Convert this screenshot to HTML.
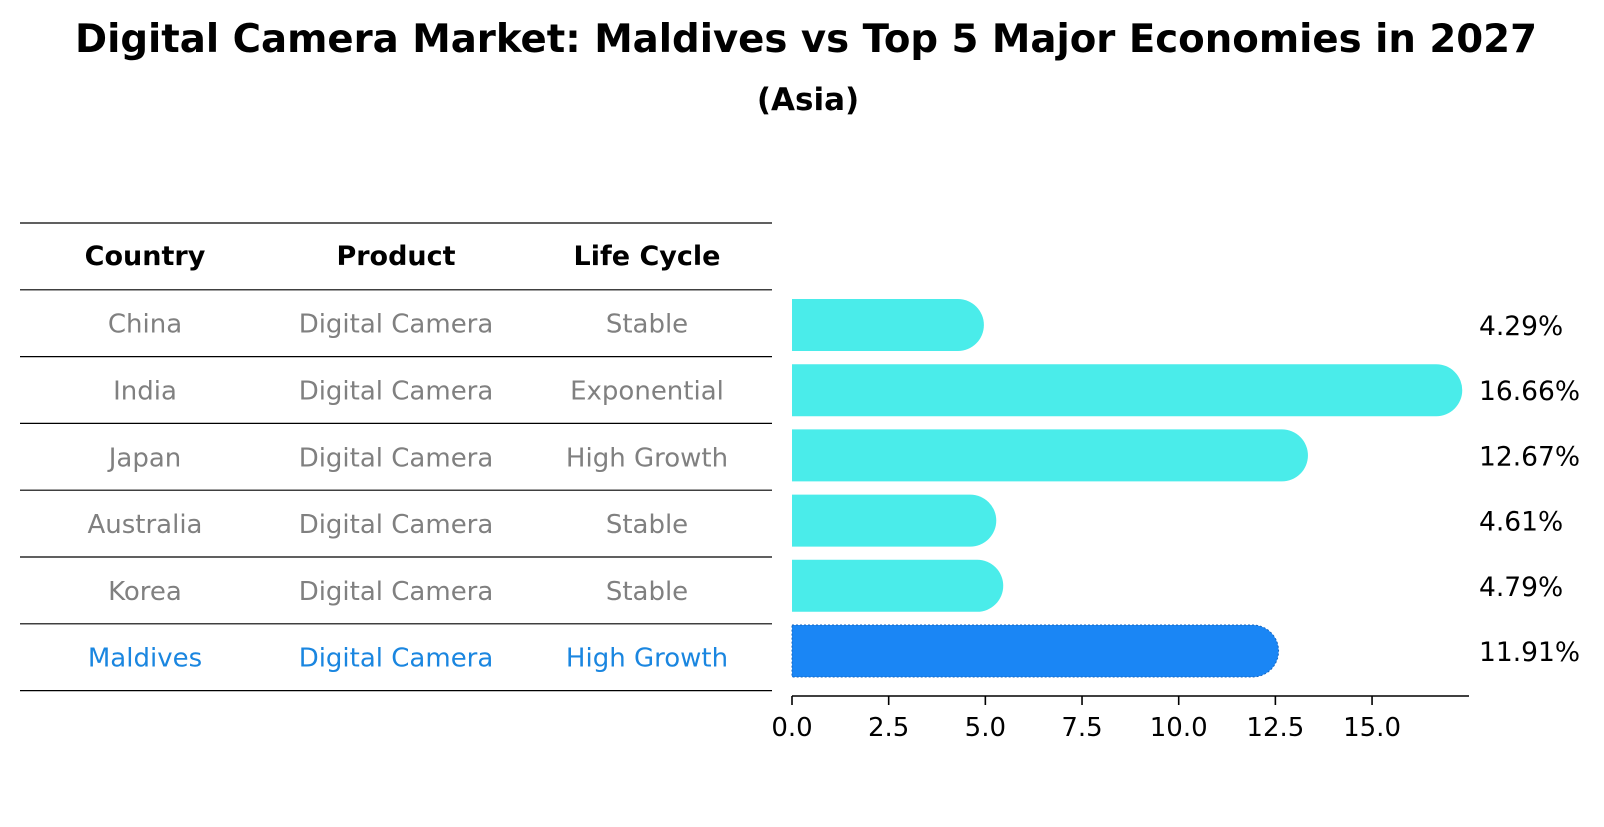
<!DOCTYPE html>
<html><head><meta charset="utf-8"><style>
body{margin:0;background:#fff;font-family:"DejaVu Sans","Liberation Sans",sans-serif}
</style></head><body>
<svg width="1604" height="823" xmlns="http://www.w3.org/2000/svg" font-family="DejaVu Sans, Liberation Sans, sans-serif">
<text x="806" y="52" text-anchor="middle" font-size="39" font-weight="bold" textLength="1462" lengthAdjust="spacingAndGlyphs">Digital Camera Market: Maldives vs Top 5 Major Economies in 2027</text>
<text x="808" y="110" text-anchor="middle" font-size="31" font-weight="bold">(Asia)</text>
<g id="table"></g>
<g id="bars"></g>
<g id="axis"></g>
</svg>
<script>
const countries=["China","India","Japan","Australia","Korea","Maldives"];
const products=["Digital Camera","Digital Camera","Digital Camera","Digital Camera","Digital Camera","Digital Camera"];
const lifecycles=["Stable","Exponential","High Growth","Stable","Stable","High Growth"];
const values=[4.29,16.66,12.67,4.61,4.79,11.91];
const ticks=[0,2.5,5,7.5,10,12.5,15];
const NS="http://www.w3.org/2000/svg";
const x0=792, scale=38.67;
const xs=v=>x0+v*scale;
const yc=i=>325+i*65.2;
function mk(tag,attrs,parent,text){const e=document.createElementNS(NS,tag);for(const k in attrs)e.setAttribute(k,attrs[k]);if(text!==undefined)e.textContent=text;parent.appendChild(e);return e;}
const tbl=document.getElementById('table');
for(let k=0;k<8;k++){const y=223+k*66.8;
const l=mk('line',{x1:20,x2:772,y1:y,y2:y,stroke:'#000','stroke-width':1.2},tbl);

}
const cx=[145,396,647];
["Country","Product","Life Cycle"].forEach((h,j)=>{const t=mk('text',{x:cx[j],y:265,'text-anchor':'middle','font-size':27,'font-weight':'bold'},tbl,h);

});
countries.forEach((c,i)=>{const col=i===countries.length-1?'#1a86e0':'#808080';
[c,products[i],lifecycles[i]].forEach((s,j)=>{const t=mk('text',{x:cx[j],y:323.2+i*66.8+9.5,'text-anchor':'middle','font-size':26,fill:col},tbl,s);

});});
const bars=document.getElementById('bars');
values.forEach((v,i)=>{const last=i===values.length-1;const col=last?'#1a86f5':'#4aecea';const h=52,r=26;
const g=mk('g',{},bars);


const xe=xs(v);
const attrs={d:`M${x0} ${yc(i)-h/2} H${xe} A${r} ${r} 0 0 1 ${xe} ${yc(i)+h/2} H${x0} Z`,fill:col};
if(last){attrs.stroke='#1565c0';attrs['stroke-width']=1;attrs['stroke-dasharray']='2,2';}
mk('path',attrs,g);
const t=mk('text',{x:1479,y:yc(i)+10,'font-size':26.5},bars,v.toFixed(2)+'%');

});
const ax=document.getElementById('axis');
mk('line',{x1:x0,x2:1469,y1:696,y2:696,stroke:'#000','stroke-width':1.6},ax);
ticks.forEach(t=>{mk('line',{x1:xs(t),x2:xs(t),y1:696,y2:705,stroke:'#000','stroke-width':1.6},ax);
const l=mk('text',{x:xs(t),y:736,'text-anchor':'middle','font-size':26},ax,t.toFixed(1));

});
</script>
</body></html>
